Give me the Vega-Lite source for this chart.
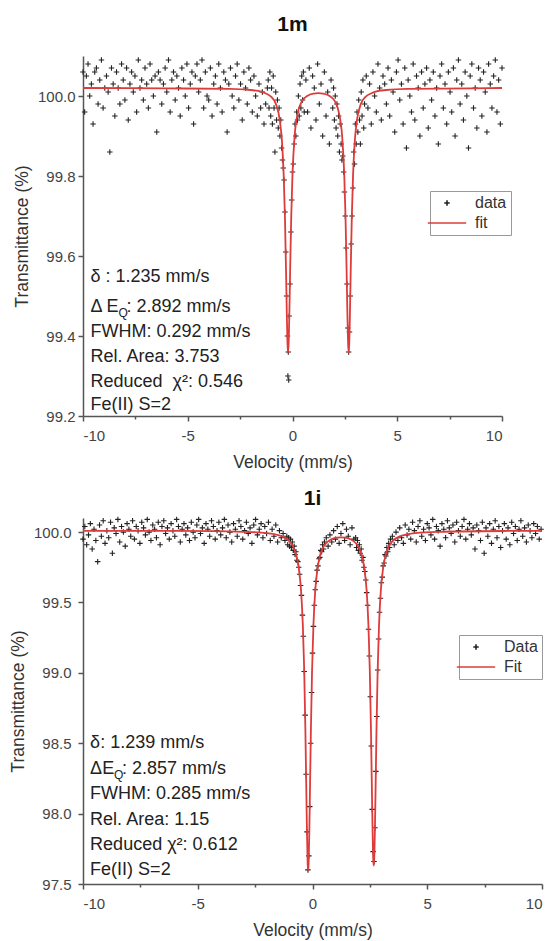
{
"$schema": "https://vega.github.io/schema/vega-lite/v6.json",
"padding": {"left": 9, "top": 14, "right": 0, "bottom": 4},
"spacing": 17,
"datasets": {
"top_pts": [
{"v":-10,"t":100.06},{"v":-9.92,"t":99.96},{"v":-9.84,"t":100.05},{"v":-9.76,"t":100.08},{"v":-9.68,"t":100.0},{"v":-9.6,"t":100.03},{"v":-9.52,"t":99.93},{"v":-9.44,"t":100.06},{"v":-9.36,"t":100.07},{"v":-9.28,"t":99.98},{"v":-9.2,"t":100.04},{"v":-9.12,"t":100.09},{"v":-9.04,"t":99.97},{"v":-8.96,"t":100.02},{"v":-8.88,"t":100.05},{"v":-8.8,"t":100.01},{"v":-8.72,"t":99.86},{"v":-8.64,"t":100.07},{"v":-8.56,"t":100.03},{"v":-8.48,"t":99.95},{"v":-8.4,"t":100.06},{"v":-8.32,"t":100.02},{"v":-8.24,"t":99.98},{"v":-8.16,"t":100.08},{"v":-8.08,"t":100.04},{"v":-8.0,"t":99.99},{"v":-7.92,"t":100.07},{"v":-7.84,"t":99.94},{"v":-7.76,"t":100.03},{"v":-7.68,"t":100.06},{"v":-7.6,"t":100.01},{"v":-7.52,"t":100.05},{"v":-7.44,"t":99.96},{"v":-7.36,"t":100.09},{"v":-7.28,"t":100.02},{"v":-7.2,"t":100.04},{"v":-7.12,"t":99.99},{"v":-7.04,"t":100.07},{"v":-6.96,"t":100.03},{"v":-6.88,"t":99.97},{"v":-6.8,"t":100.08},{"v":-6.72,"t":100.04},{"v":-6.64,"t":100.0},{"v":-6.56,"t":100.05},{"v":-6.48,"t":99.91},{"v":-6.4,"t":100.06},{"v":-6.32,"t":100.04},{"v":-6.24,"t":99.98},{"v":-6.16,"t":100.03},{"v":-6.08,"t":100.07},{"v":-6.0,"t":100.01},{"v":-5.92,"t":100.09},{"v":-5.84,"t":99.96},{"v":-5.76,"t":100.04},{"v":-5.68,"t":100.06},{"v":-5.6,"t":99.99},{"v":-5.52,"t":100.05},{"v":-5.44,"t":100.02},{"v":-5.36,"t":99.95},{"v":-5.28,"t":100.07},{"v":-5.2,"t":100.04},{"v":-5.12,"t":100.0},{"v":-5.04,"t":100.08},{"v":-4.96,"t":99.97},{"v":-4.88,"t":100.03},{"v":-4.8,"t":100.06},{"v":-4.72,"t":99.93},{"v":-4.64,"t":100.05},{"v":-4.56,"t":100.08},{"v":-4.48,"t":100.01},{"v":-4.4,"t":100.04},{"v":-4.32,"t":100.09},{"v":-4.24,"t":99.97},{"v":-4.16,"t":100.06},{"v":-4.08,"t":100.0},{"v":-4.0,"t":99.99},{"v":-3.92,"t":100.07},{"v":-3.84,"t":99.95},{"v":-3.76,"t":100.03},{"v":-3.68,"t":100.05},{"v":-3.6,"t":99.98},{"v":-3.52,"t":100.08},{"v":-3.44,"t":100.02},{"v":-3.36,"t":99.96},{"v":-3.28,"t":100.06},{"v":-3.2,"t":100.04},{"v":-3.12,"t":99.91},{"v":-3.04,"t":100.03},{"v":-2.96,"t":100.07},{"v":-2.88,"t":100.0},{"v":-2.8,"t":99.97},{"v":-2.72,"t":100.05},{"v":-2.64,"t":100.08},{"v":-2.56,"t":99.99},{"v":-2.48,"t":100.03},{"v":-2.4,"t":99.94},{"v":-2.32,"t":100.06},{"v":-2.24,"t":100.02},{"v":-2.16,"t":99.98},{"v":-2.08,"t":100.07},{"v":-2.0,"t":100.04},{"v":-1.92,"t":99.96},{"v":-1.84,"t":100.05},{"v":-1.76,"t":100.0},{"v":-1.68,"t":99.95},{"v":-1.6,"t":100.03},{"v":-1.52,"t":99.97},{"v":-1.44,"t":100.01},{"v":-1.36,"t":99.93},{"v":-1.28,"t":99.98},{"v":-1.2,"t":100.02},
{"v":-1.16,"t":100.04},{"v":-1.12,"t":99.97},{"v":-1.08,"t":100.06},{"v":-1.04,"t":99.95},{"v":-1.0,"t":100.02},{"v":-0.96,"t":99.93},{"v":-0.92,"t":100.05},{"v":-0.88,"t":99.97},{"v":-0.84,"t":99.86},{"v":-0.8,"t":100.01},{"v":-0.76,"t":99.94},{"v":-0.72,"t":99.99},{"v":-0.68,"t":99.92},{"v":-0.64,"t":99.97},{"v":-0.6,"t":99.9},{"v":-0.56,"t":99.94},{"v":-0.52,"t":99.87},{"v":-0.48,"t":99.84},{"v":-0.44,"t":99.82},{"v":-0.4,"t":99.79},{"v":-0.36,"t":99.71},{"v":-0.32,"t":99.61},{"v":-0.28,"t":99.5},{"v":-0.24,"t":99.4},{"v":-0.22,"t":99.3},{"v":-0.2,"t":99.36},{"v":-0.18,"t":99.29},{"v":-0.16,"t":99.45},{"v":-0.12,"t":99.53},{"v":-0.08,"t":99.66},{"v":-0.04,"t":99.74},{"v":0.0,"t":99.81},{"v":0.04,"t":99.83},{"v":0.08,"t":99.88},{"v":0.12,"t":99.93},{"v":0.16,"t":99.9},{"v":0.2,"t":99.96},{"v":0.24,"t":99.94},{"v":0.28,"t":100.0},{"v":0.32,"t":99.95},{"v":0.36,"t":100.03},{"v":0.4,"t":99.97},{"v":0.44,"t":100.05},{"v":0.48,"t":99.99},{"v":0.52,"t":100.06},{"v":0.56,"t":99.96},
{"v":0.64,"t":100.04},{"v":0.72,"t":99.96},{"v":0.8,"t":100.07},{"v":0.88,"t":99.92},{"v":0.96,"t":100.05},{"v":1.04,"t":100.02},{"v":1.12,"t":99.94},{"v":1.2,"t":100.08},{"v":1.28,"t":99.98},{"v":1.36,"t":100.03},{"v":1.44,"t":99.9},{"v":1.52,"t":100.06},{"v":1.6,"t":99.95},{"v":1.68,"t":100.01},{"v":1.76,"t":99.88},{"v":1.84,"t":100.04},
{"v":1.92,"t":99.97},{"v":1.96,"t":100.02},{"v":2.0,"t":99.94},{"v":2.04,"t":100.0},{"v":2.08,"t":99.92},{"v":2.12,"t":99.98},{"v":2.16,"t":99.9},{"v":2.2,"t":99.95},{"v":2.24,"t":99.86},{"v":2.28,"t":99.93},{"v":2.32,"t":99.88},{"v":2.36,"t":99.84},{"v":2.4,"t":99.85},{"v":2.44,"t":99.81},{"v":2.48,"t":99.76},{"v":2.52,"t":99.7},{"v":2.56,"t":99.62},{"v":2.6,"t":99.53},{"v":2.64,"t":99.42},{"v":2.68,"t":99.36},{"v":2.72,"t":99.41},{"v":2.76,"t":99.5},{"v":2.8,"t":99.63},{"v":2.84,"t":99.7},{"v":2.88,"t":99.77},{"v":2.92,"t":99.86},{"v":2.96,"t":99.83},{"v":3.0,"t":99.93},{"v":3.04,"t":99.88},{"v":3.08,"t":99.96},{"v":3.12,"t":99.91},{"v":3.16,"t":99.99},{"v":3.2,"t":99.94},{"v":3.24,"t":99.88},{"v":3.28,"t":100.01},{"v":3.32,"t":99.95},{"v":3.36,"t":100.04},{"v":3.4,"t":99.92},{"v":3.44,"t":99.98},
{"v":3.52,"t":100.05},{"v":3.6,"t":99.97},{"v":3.68,"t":100.03},{"v":3.76,"t":99.93},{"v":3.84,"t":100.06},{"v":3.92,"t":100.0},{"v":4.0,"t":99.96},{"v":4.08,"t":100.08},{"v":4.16,"t":100.02},{"v":4.24,"t":99.94},{"v":4.32,"t":100.05},{"v":4.4,"t":100.03},{"v":4.48,"t":99.98},{"v":4.56,"t":100.07},{"v":4.64,"t":99.95},{"v":4.72,"t":100.04},{"v":4.8,"t":100.01},{"v":4.88,"t":99.91},{"v":4.96,"t":100.06},{"v":5.04,"t":100.09},{"v":5.12,"t":99.99},{"v":5.2,"t":100.03},{"v":5.28,"t":99.93},{"v":5.36,"t":100.07},{"v":5.44,"t":99.87},{"v":5.52,"t":100.04},{"v":5.6,"t":100.0},{"v":5.68,"t":99.96},{"v":5.76,"t":100.08},{"v":5.84,"t":99.94},{"v":5.92,"t":100.05},{"v":6.0,"t":100.02},{"v":6.08,"t":99.9},{"v":6.16,"t":100.06},{"v":6.24,"t":99.97},{"v":6.32,"t":100.03},{"v":6.4,"t":100.07},{"v":6.48,"t":99.92},{"v":6.56,"t":100.04},{"v":6.64,"t":99.99},{"v":6.72,"t":100.06},{"v":6.8,"t":99.95},{"v":6.88,"t":100.02},{"v":6.96,"t":99.88},{"v":7.04,"t":100.05},{"v":7.12,"t":100.08},{"v":7.2,"t":99.97},{"v":7.28,"t":100.03},{"v":7.36,"t":99.93},{"v":7.44,"t":100.06},{"v":7.52,"t":100.01},{"v":7.6,"t":99.96},{"v":7.68,"t":100.07},{"v":7.76,"t":99.9},{"v":7.84,"t":100.04},{"v":7.92,"t":100.09},{"v":8.0,"t":99.98},{"v":8.08,"t":100.03},{"v":8.16,"t":99.94},{"v":8.24,"t":100.06},{"v":8.32,"t":100.0},{"v":8.4,"t":99.87},{"v":8.48,"t":100.05},{"v":8.56,"t":100.08},{"v":8.64,"t":99.97},{"v":8.72,"t":100.02},{"v":8.8,"t":99.92},{"v":8.88,"t":100.07},{"v":8.96,"t":100.04},{"v":9.04,"t":99.95},{"v":9.12,"t":100.06},{"v":9.2,"t":100.01},{"v":9.28,"t":99.91},{"v":9.36,"t":100.08},{"v":9.44,"t":100.03},{"v":9.52,"t":99.97},{"v":9.6,"t":100.05},{"v":9.68,"t":100.09},{"v":9.76,"t":99.96},{"v":9.84,"t":100.04},{"v":9.92,"t":99.93},{"v":10,"t":100.07}
],
"top_fit": [
{"v":-10,"t":100.02},{"v":-6,"t":100.019},{"v":-3,"t":100.018},{"v":-2,"t":100.015},{"v":-1.5,"t":100.011},{"v":-1.3,"t":100.007},{"v":-1.0,"t":99.997},{"v":-0.8,"t":99.981},{"v":-0.6,"t":99.937},{"v":-0.5,"t":99.885},{"v":-0.42,"t":99.802},{"v":-0.36,"t":99.695},{"v":-0.31,"t":99.566},{"v":-0.27,"t":99.451},{"v":-0.24,"t":99.383},{"v":-0.211,"t":99.358},{"v":-0.18,"t":99.387},{"v":-0.15,"t":99.456},{"v":-0.11,"t":99.572},{"v":-0.06,"t":99.699},{"v":0.0,"t":99.804},{"v":0.1,"t":99.899},{"v":0.25,"t":99.957},{"v":0.45,"t":99.987},{"v":0.7,"t":100.0},{"v":1.0,"t":100.006},{"v":1.235,"t":100.007},{"v":1.47,"t":100.006},{"v":1.77,"t":100.0},{"v":2.02,"t":99.987},{"v":2.22,"t":99.957},{"v":2.37,"t":99.899},{"v":2.47,"t":99.804},{"v":2.53,"t":99.699},{"v":2.58,"t":99.572},{"v":2.62,"t":99.456},{"v":2.65,"t":99.387},{"v":2.681,"t":99.358},{"v":2.71,"t":99.383},{"v":2.74,"t":99.451},{"v":2.78,"t":99.566},{"v":2.83,"t":99.695},{"v":2.89,"t":99.802},{"v":2.97,"t":99.885},{"v":3.07,"t":99.937},{"v":3.27,"t":99.981},{"v":3.47,"t":99.997},{"v":3.77,"t":100.007},{"v":3.97,"t":100.011},{"v":4.47,"t":100.015},{"v":5.47,"t":100.018},{"v":8.47,"t":100.019},{"v":10,"t":100.02}
],
"top_notes": [
{"v":-9.64,"t":99.5475,"label":"δ : 1.235 mm/s"},
{"v":-9.64,"t":99.4725,"label":"Δ E"},
{"v":-7.92,"t":99.4725,"label":": 2.892 mm/s"},
{"v":-9.64,"t":99.41,"label":"FWHM: 0.292 mm/s"},
{"v":-9.64,"t":99.3475,"label":"Rel. Area: 3.753"},
{"v":-9.64,"t":99.285,"label":"Reduced\u00a0 χ²: 0.546"},
{"v":-9.64,"t":99.2275,"label":"Fe(II) S=2"}
],
"top_sub": [{"v":-8.305,"t":99.4725,"label":"Q"}],
"bot_pts": [
{"v":-10,"t":99.95},{"v":-9.92,"t":100.04},{"v":-9.84,"t":99.91},{"v":-9.76,"t":99.98},{"v":-9.68,"t":100.06},{"v":-9.6,"t":99.88},{"v":-9.52,"t":100.02},{"v":-9.44,"t":99.94},{"v":-9.36,"t":99.79},{"v":-9.28,"t":100.05},{"v":-9.2,"t":99.97},{"v":-9.12,"t":100.08},{"v":-9.04,"t":99.92},{"v":-8.96,"t":100.01},{"v":-8.88,"t":99.96},{"v":-8.8,"t":100.07},{"v":-8.72,"t":99.85},{"v":-8.64,"t":100.03},{"v":-8.56,"t":99.99},{"v":-8.48,"t":100.09},{"v":-8.4,"t":99.93},{"v":-8.32,"t":100.04},{"v":-8.24,"t":100.0},{"v":-8.16,"t":99.9},{"v":-8.08,"t":100.06},{"v":-8.0,"t":100.02},{"v":-7.92,"t":99.97},{"v":-7.84,"t":100.08},{"v":-7.76,"t":99.95},{"v":-7.68,"t":100.04},{"v":-7.6,"t":100.01},{"v":-7.52,"t":99.92},{"v":-7.44,"t":100.07},{"v":-7.36,"t":100.03},{"v":-7.28,"t":99.98},{"v":-7.2,"t":100.09},{"v":-7.12,"t":100.0},{"v":-7.04,"t":99.94},{"v":-6.96,"t":100.05},{"v":-6.88,"t":100.02},{"v":-6.8,"t":99.96},{"v":-6.72,"t":100.07},{"v":-6.64,"t":99.91},{"v":-6.56,"t":100.04},{"v":-6.48,"t":100.08},{"v":-6.4,"t":99.99},{"v":-6.32,"t":100.03},{"v":-6.24,"t":99.95},{"v":-6.16,"t":100.06},{"v":-6.08,"t":100.01},{"v":-6.0,"t":99.97},{"v":-5.92,"t":100.09},{"v":-5.84,"t":100.04},{"v":-5.76,"t":99.93},{"v":-5.68,"t":100.02},{"v":-5.6,"t":100.06},{"v":-5.52,"t":99.98},{"v":-5.44,"t":100.03},{"v":-5.36,"t":99.94},{"v":-5.28,"t":100.07},{"v":-5.2,"t":100.0},{"v":-5.12,"t":99.96},{"v":-5.04,"t":100.05},{"v":-4.96,"t":100.09},{"v":-4.88,"t":99.99},{"v":-4.8,"t":100.03},{"v":-4.72,"t":99.92},{"v":-4.64,"t":100.06},{"v":-4.56,"t":100.02},{"v":-4.48,"t":99.97},{"v":-4.4,"t":100.08},{"v":-4.32,"t":100.04},{"v":-4.24,"t":99.95},{"v":-4.16,"t":100.01},{"v":-4.08,"t":100.07},{"v":-4.0,"t":99.98},{"v":-3.92,"t":100.03},{"v":-3.84,"t":100.09},{"v":-3.76,"t":99.96},{"v":-3.68,"t":100.05},{"v":-3.6,"t":100.0},{"v":-3.52,"t":99.93},{"v":-3.44,"t":100.06},{"v":-3.36,"t":100.02},{"v":-3.28,"t":99.97},{"v":-3.2,"t":100.08},{"v":-3.12,"t":100.04},{"v":-3.04,"t":99.95},{"v":-2.96,"t":100.01},{"v":-2.88,"t":100.07},{"v":-2.8,"t":99.99},{"v":-2.72,"t":100.03},{"v":-2.64,"t":99.92},{"v":-2.56,"t":100.05},{"v":-2.48,"t":100.09},{"v":-2.4,"t":99.98},{"v":-2.32,"t":100.02},{"v":-2.24,"t":100.06},{"v":-2.16,"t":99.96},{"v":-2.08,"t":100.04},{"v":-2.0,"t":99.99},{"v":-1.92,"t":100.07},{"v":-1.84,"t":99.94},{"v":-1.76,"t":100.02},{"v":-1.68,"t":99.97},{"v":-1.6,"t":100.05},{"v":-1.52,"t":99.93},{"v":-1.44,"t":100.01},{"v":-1.36,"t":99.96},{"v":-1.28,"t":99.99},{"v":-1.2,"t":99.94},
{"v":-1.12,"t":99.97},{"v":-1.08,"t":99.91},{"v":-1.04,"t":99.96},{"v":-1.0,"t":99.9},{"v":-0.96,"t":99.95},{"v":-0.92,"t":99.89},{"v":-0.88,"t":99.93},{"v":-0.84,"t":99.87},{"v":-0.8,"t":99.9},{"v":-0.76,"t":99.84},{"v":-0.72,"t":99.86},{"v":-0.68,"t":99.8},{"v":-0.64,"t":99.79},{"v":-0.6,"t":99.75},{"v":-0.56,"t":99.7},{"v":-0.52,"t":99.62},{"v":-0.48,"t":99.55},{"v":-0.44,"t":99.41},{"v":-0.4,"t":99.26},{"v":-0.36,"t":99.01},{"v":-0.32,"t":98.7},{"v":-0.28,"t":98.28},{"v":-0.24,"t":97.87},{"v":-0.2,"t":97.6},{"v":-0.16,"t":97.7},{"v":-0.12,"t":98.05},{"v":-0.08,"t":98.5},{"v":-0.04,"t":98.86},{"v":0.0,"t":99.14},{"v":0.04,"t":99.33},{"v":0.08,"t":99.48},{"v":0.12,"t":99.59},{"v":0.16,"t":99.65},{"v":0.2,"t":99.73},{"v":0.24,"t":99.76},{"v":0.28,"t":99.81},{"v":0.32,"t":99.82},{"v":0.36,"t":99.87},{"v":0.4,"t":99.86},{"v":0.44,"t":99.91},{"v":0.48,"t":99.88},{"v":0.52,"t":99.93},
{"v":0.6,"t":99.96},{"v":0.68,"t":99.9},{"v":0.76,"t":99.98},{"v":0.84,"t":99.93},{"v":0.92,"t":100.01},{"v":1.0,"t":99.95},{"v":1.08,"t":100.04},{"v":1.16,"t":99.92},{"v":1.24,"t":99.99},{"v":1.32,"t":100.06},{"v":1.4,"t":99.94},{"v":1.48,"t":100.02},{"v":1.56,"t":99.97},{"v":1.64,"t":99.91},{"v":1.72,"t":100.03},{"v":1.8,"t":99.95},
{"v":1.88,"t":99.96},{"v":1.92,"t":99.89},{"v":1.96,"t":99.94},{"v":2.0,"t":99.87},{"v":2.04,"t":99.91},{"v":2.08,"t":99.85},{"v":2.12,"t":99.88},{"v":2.16,"t":99.8},{"v":2.2,"t":99.82},{"v":2.24,"t":99.75},{"v":2.28,"t":99.72},{"v":2.32,"t":99.66},{"v":2.36,"t":99.57},{"v":2.4,"t":99.48},{"v":2.44,"t":99.31},{"v":2.48,"t":99.12},{"v":2.52,"t":98.83},{"v":2.56,"t":98.48},{"v":2.6,"t":98.03},{"v":2.64,"t":97.73},{"v":2.68,"t":97.66},{"v":2.72,"t":97.9},{"v":2.76,"t":98.3},{"v":2.8,"t":98.69},{"v":2.84,"t":99.02},{"v":2.88,"t":99.24},{"v":2.92,"t":99.43},{"v":2.96,"t":99.53},{"v":3.0,"t":99.64},{"v":3.04,"t":99.68},{"v":3.08,"t":99.76},{"v":3.12,"t":99.78},{"v":3.16,"t":99.84},{"v":3.2,"t":99.83},{"v":3.24,"t":99.89},{"v":3.28,"t":99.86},{"v":3.32,"t":99.92},{"v":3.36,"t":99.89},{"v":3.4,"t":99.95},
{"v":3.48,"t":99.97},{"v":3.56,"t":99.91},{"v":3.64,"t":100.0},{"v":3.72,"t":99.94},{"v":3.8,"t":100.03},{"v":3.88,"t":99.96},{"v":3.96,"t":99.92},{"v":4.04,"t":100.05},{"v":4.12,"t":99.98},{"v":4.2,"t":100.02},{"v":4.28,"t":99.95},{"v":4.36,"t":100.07},{"v":4.44,"t":100.01},{"v":4.52,"t":99.93},{"v":4.6,"t":100.04},{"v":4.68,"t":100.08},{"v":4.76,"t":99.97},{"v":4.84,"t":100.02},{"v":4.92,"t":99.94},{"v":5.0,"t":100.06},{"v":5.08,"t":100.03},{"v":5.16,"t":99.98},{"v":5.24,"t":100.09},{"v":5.32,"t":99.95},{"v":5.4,"t":100.04},{"v":5.48,"t":100.01},{"v":5.56,"t":99.9},{"v":5.64,"t":100.06},{"v":5.72,"t":100.02},{"v":5.8,"t":99.96},{"v":5.88,"t":100.08},{"v":5.96,"t":100.03},{"v":6.04,"t":99.99},{"v":6.12,"t":100.05},{"v":6.2,"t":99.93},{"v":6.28,"t":100.07},{"v":6.36,"t":100.01},{"v":6.44,"t":99.97},{"v":6.52,"t":100.04},{"v":6.6,"t":100.09},{"v":6.68,"t":99.95},{"v":6.76,"t":100.02},{"v":6.84,"t":100.06},{"v":6.92,"t":99.98},{"v":7.0,"t":100.03},{"v":7.08,"t":99.88},{"v":7.16,"t":100.05},{"v":7.24,"t":100.01},{"v":7.32,"t":99.94},{"v":7.4,"t":100.07},{"v":7.48,"t":99.85},{"v":7.56,"t":100.03},{"v":7.64,"t":99.97},{"v":7.72,"t":100.06},{"v":7.8,"t":99.92},{"v":7.88,"t":100.02},{"v":7.96,"t":100.08},{"v":8.04,"t":99.96},{"v":8.12,"t":100.04},{"v":8.2,"t":99.89},{"v":8.28,"t":100.01},{"v":8.36,"t":100.06},{"v":8.44,"t":99.95},{"v":8.52,"t":100.03},{"v":8.6,"t":99.91},{"v":8.68,"t":100.07},{"v":8.76,"t":99.99},{"v":8.84,"t":100.04},{"v":8.92,"t":99.94},{"v":9.0,"t":100.02},{"v":9.08,"t":100.08},{"v":9.16,"t":99.97},{"v":9.24,"t":100.03},{"v":9.32,"t":99.93},{"v":9.4,"t":100.05},{"v":9.48,"t":100.01},{"v":9.56,"t":99.96},{"v":9.64,"t":100.06},{"v":9.72,"t":99.99},{"v":9.8,"t":100.04},{"v":9.88,"t":99.95},{"v":9.96,"t":100.02}
],
"bot_fit": [
{"v":-10,"t":100.009},{"v":-6,"t":100.008},{"v":-3,"t":100.002},{"v":-2,"t":99.993},{"v":-1.5,"t":99.979},{"v":-1.2,"t":99.96},{"v":-1.0,"t":99.934},{"v":-0.85,"t":99.899},{"v":-0.7,"t":99.831},{"v":-0.6,"t":99.746},{"v":-0.5,"t":99.586},{"v":-0.42,"t":99.336},{"v":-0.36,"t":99.01},{"v":-0.31,"t":98.594},{"v":-0.27,"t":98.171},{"v":-0.24,"t":97.858},{"v":-0.21,"t":97.64},{"v":-0.19,"t":97.594},{"v":-0.17,"t":97.64},{"v":-0.14,"t":97.858},{"v":-0.11,"t":98.171},{"v":-0.07,"t":98.594},{"v":-0.02,"t":99.01},{"v":0.04,"t":99.335},{"v":0.12,"t":99.585},{"v":0.22,"t":99.743},{"v":0.32,"t":99.827},{"v":0.47,"t":99.893},{"v":0.62,"t":99.926},{"v":0.82,"t":99.949},{"v":1.04,"t":99.96},{"v":1.239,"t":99.963},{"v":1.438,"t":99.96},{"v":1.658,"t":99.949},{"v":1.858,"t":99.926},{"v":2.008,"t":99.893},{"v":2.158,"t":99.827},{"v":2.258,"t":99.743},{"v":2.358,"t":99.585},{"v":2.438,"t":99.335},{"v":2.498,"t":99.01},{"v":2.548,"t":98.594},{"v":2.588,"t":98.171},{"v":2.618,"t":97.88},{"v":2.648,"t":97.67},{"v":2.668,"t":97.63},{"v":2.688,"t":97.67},{"v":2.718,"t":97.88},{"v":2.748,"t":98.171},{"v":2.788,"t":98.594},{"v":2.838,"t":99.01},{"v":2.898,"t":99.336},{"v":2.978,"t":99.586},{"v":3.078,"t":99.746},{"v":3.178,"t":99.831},{"v":3.328,"t":99.899},{"v":3.478,"t":99.934},{"v":3.678,"t":99.96},{"v":3.978,"t":99.979},{"v":4.478,"t":99.993},{"v":5.478,"t":100.002},{"v":8.478,"t":100.008},{"v":10,"t":100.009}
],
"bot_notes": [
{"v":-9.69,"t":98.5,"label":"δ: 1.239 mm/s"},
{"v":-9.69,"t":98.32,"label":"ΔE"},
{"v":-8.3,"t":98.32,"label":": 2.857 mm/s"},
{"v":-9.69,"t":98.14,"label":"FWHM: 0.285 mm/s"},
{"v":-9.69,"t":97.957,"label":"Rel. Area: 1.15"},
{"v":-9.69,"t":97.78,"label":"Reduced χ²: 0.612"},
{"v":-9.69,"t":97.6,"label":"Fe(II) S=2"}
],
"bot_sub": [{"v":-8.65,"t":98.32,"label":"Q"}]
},
"vconcat": [
{
"width": 419, "height": 360,
"title": {"text": "1m", "offset": 20, "frame": "group"},
"layer": [
{"data": {"name": "top_pts"},
 "mark": {"type": "point", "filled": false, "size": 30, "strokeWidth": 1.1, "opacity": 1},
 "encoding": {
  "x": {"field": "v", "type": "quantitative", "scale": {"domain": [-10, 10], "nice": false, "zero": false},
        "axis": {"title": "Velocity (mm/s)", "values": [-10,-7.5,-5,-2.5,0,2.5,5,7.5,10], "labelExpr": "datum.value % 5 == 0 ? '' + datum.value : ''", "tickSize": {"condition": {"test": "datum.value % 5 == 0", "value": 5}, "value": 3}, "labelPadding": 7, "titlePadding": 10}},
  "y": {"field": "t", "type": "quantitative", "scale": {"domain": [99.2, 100.1], "nice": false, "zero": false},
        "axis": {"title": "Transmittance (%)", "values": [99.2,99.3,99.4,99.5,99.6,99.7,99.8,99.9,100.0,100.1], "labelExpr": "round(datum.value*10) % 2 == 0 ? format(datum.value, '.1f') : ''", "tickSize": {"condition": {"test": "round(datum.value*10) % 2 == 0", "value": 5}, "value": 3}, "labelPadding": 3, "titlePadding": 6}},
  "color": {"datum": "data", "type": "nominal", "scale": {"domain": ["data", "fit"], "range": ["#222222", "#df3b3b"]},
            "legend": {"title": null, "orient": "none", "legendX": 347, "legendY": 135, "strokeColor": "#999", "fillColor": "white", "padding": 4, "symbolSize": 30, "symbolStrokeWidth": 1.6, "symbolOffset": 5, "labelOffset": 20, "labelFontSize": 16, "labelColor": "#333", "labelFont": "Liberation Sans", "rowPadding": 4}},
  "shape": {"datum": "data", "type": "nominal", "scale": {"domain": ["data", "fit"], "range": ["M-1,0H1M0,-1V1", "M-7,0H7"]},
            "legend": {"title": null, "orient": "none", "legendX": 347, "legendY": 135, "strokeColor": "#999", "fillColor": "white", "padding": 4, "symbolSize": 30, "symbolStrokeWidth": 1.6, "symbolOffset": 5, "labelOffset": 20, "labelFontSize": 16, "labelColor": "#333", "labelFont": "Liberation Sans", "rowPadding": 4}}
 }},
{"data": {"name": "top_fit"},
 "mark": {"type": "line", "color": "#df3b3b", "strokeWidth": 1.8, "interpolate": "monotone"},
 "encoding": {"x": {"field": "v", "type": "quantitative"}, "y": {"field": "t", "type": "quantitative"}}},
{"data": {"name": "top_notes"},
 "mark": {"type": "text", "align": "left", "baseline": "middle", "font": "Liberation Sans", "fontSize": 18, "color": "#222"},
 "encoding": {"x": {"field": "v", "type": "quantitative"}, "y": {"field": "t", "type": "quantitative"}, "text": {"field": "label"}}},
{"data": {"name": "top_sub"},
 "mark": {"type": "text", "align": "left", "baseline": "middle", "font": "Liberation Sans", "fontSize": 12, "dy": 6, "color": "#222"},
 "encoding": {"x": {"field": "v", "type": "quantitative"}, "y": {"field": "t", "type": "quantitative"}, "text": {"field": "label"}}}
]
},
{
"width": 459, "height": 366,
"title": {"text": "1i", "offset": 5, "frame": "group"},
"layer": [
{"data": {"name": "bot_pts"},
 "mark": {"type": "point", "filled": false, "size": 30, "strokeWidth": 1.1, "opacity": 1},
 "encoding": {
  "x": {"field": "v", "type": "quantitative", "scale": {"domain": [-10, 10], "nice": false, "zero": false},
        "axis": {"title": "Velocity (mm/s)", "values": [-10,-7.5,-5,-2.5,0,2.5,5,7.5,10], "labelExpr": "datum.value % 5 == 0 ? '' + datum.value : ''", "tickSize": {"condition": {"test": "datum.value % 5 == 0", "value": 5}, "value": 3}, "labelPadding": 7, "titlePadding": 10}},
  "y": {"field": "t", "type": "quantitative", "scale": {"domain": [97.5, 100.1], "nice": false, "zero": false},
        "axis": {"title": "Transmittance (%)", "values": [97.5,97.75,98,98.25,98.5,98.75,99,99.25,99.5,99.75,100], "labelExpr": "round(datum.value*4) % 2 == 0 ? format(datum.value, '.1f') : ''", "tickSize": {"condition": {"test": "round(datum.value*4) % 2 == 0", "value": 5}, "value": 3}, "labelPadding": 7, "titlePadding": 6}},
  "color": {"datum": "Data", "type": "nominal", "scale": {"domain": ["Data", "Fit"], "range": ["#222222", "#df3b3b"]},
            "legend": {"title": null, "orient": "none", "legendX": 376, "legendY": 117, "strokeColor": "#999", "fillColor": "white", "padding": 4, "symbolSize": 30, "symbolStrokeWidth": 1.6, "symbolOffset": 5, "labelOffset": 20, "labelFontSize": 16, "labelColor": "#333", "labelFont": "Liberation Sans", "rowPadding": 4}},
  "shape": {"datum": "Data", "type": "nominal", "scale": {"domain": ["Data", "Fit"], "range": ["M-1,0H1M0,-1V1", "M-7,0H7"]},
            "legend": {"title": null, "orient": "none", "legendX": 376, "legendY": 117, "strokeColor": "#999", "fillColor": "white", "padding": 4, "symbolSize": 30, "symbolStrokeWidth": 1.6, "symbolOffset": 5, "labelOffset": 20, "labelFontSize": 16, "labelColor": "#333", "labelFont": "Liberation Sans", "rowPadding": 4}}
 }},
{"data": {"name": "bot_fit"},
 "mark": {"type": "line", "color": "#df3b3b", "strokeWidth": 1.8, "interpolate": "monotone"},
 "encoding": {"x": {"field": "v", "type": "quantitative"}, "y": {"field": "t", "type": "quantitative"}}},
{"data": {"name": "bot_notes"},
 "mark": {"type": "text", "align": "left", "baseline": "middle", "font": "Liberation Sans", "fontSize": 18, "color": "#222"},
 "encoding": {"x": {"field": "v", "type": "quantitative"}, "y": {"field": "t", "type": "quantitative"}, "text": {"field": "label"}}},
{"data": {"name": "bot_sub"},
 "mark": {"type": "text", "align": "left", "baseline": "middle", "font": "Liberation Sans", "fontSize": 12, "dy": 6, "color": "#222"},
 "encoding": {"x": {"field": "v", "type": "quantitative"}, "y": {"field": "t", "type": "quantitative"}, "text": {"field": "label"}}}
]
}
],
"resolve": {"scale": {"color": "independent", "shape": "independent", "x": "independent", "y": "independent"}, "legend": {"color": "independent", "shape": "independent"}},
"config": {
 "view": {"stroke": null},
 "font": "Liberation Sans",
 "axis": {"grid": false, "domainColor": "#555", "domainWidth": 1.5, "tickColor": "#555", "tickWidth": 1.5, "labelColor": "#444", "labelFontSize": 15, "labelFont": "Liberation Sans", "titleFont": "Liberation Sans", "titleFontSize": 17.5, "titleFontWeight": "normal", "titleColor": "#333"},
 "title": {"font": "Liberation Sans", "fontSize": 21, "fontWeight": "bold", "color": "#111"}
}
}
